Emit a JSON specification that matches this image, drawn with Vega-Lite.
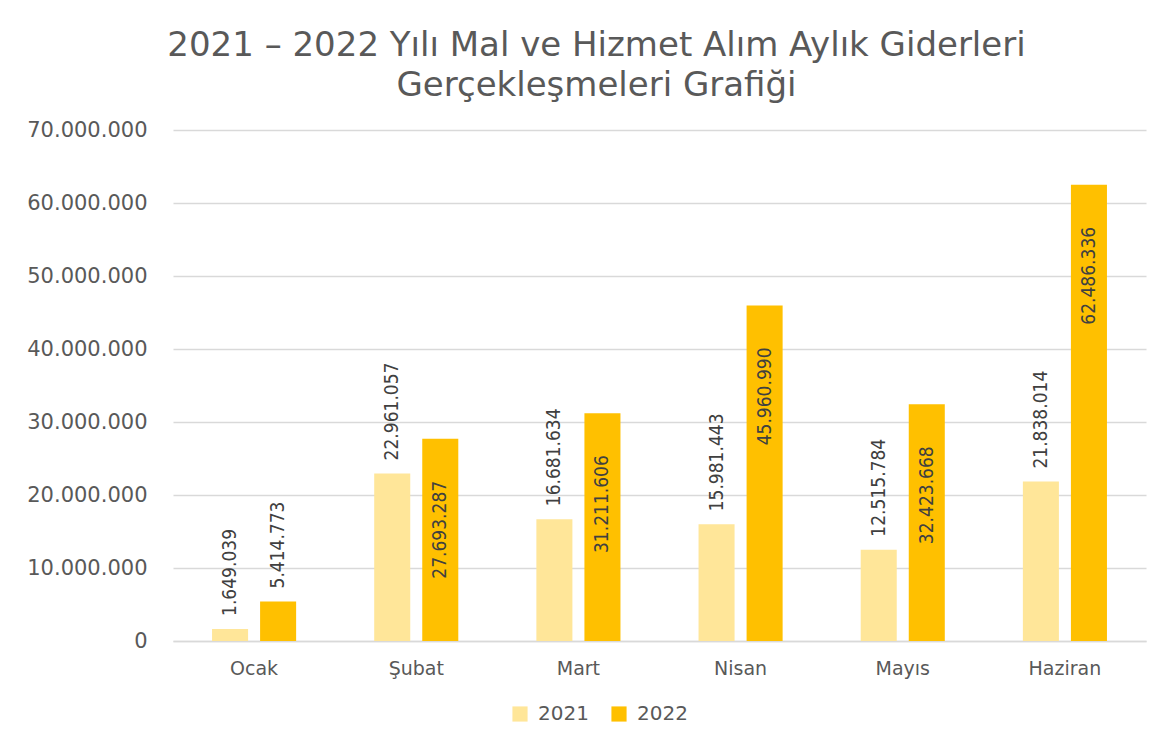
{
  "$schema": "https://vega.github.io/schema/vega-lite/v6.json",
  "width": 973,
  "height": 511,
  "autosize": {"type": "none"},
  "padding": {"left": 173, "top": 130, "right": 26, "bottom": 103},
  "background": "white",
  "config": {
    "locale": {"number": {"decimal": ",", "thousands": ".", "grouping": [3], "currency": ["", " TL"]}},
    "view": {"stroke": null}
  },
  "title": {
    "text": ["2021 – 2022 Yılı Mal ve Hizmet Alım Aylık Giderleri", "Gerçekleşmeleri Grafiği"],
    "font": "DejaVu Sans",
    "fontSize": 34,
    "fontWeight": "normal",
    "color": "#595959",
    "anchor": "middle",
    "dx": -63,
    "lineHeight": 40,
    "offset": 16
  },
  "data": {
    "values": [
      {"ay": "Ocak", "yil": "2021", "deger": 1649039},
      {"ay": "Ocak", "yil": "2022", "deger": 5414773},
      {"ay": "Şubat", "yil": "2021", "deger": 22961057},
      {"ay": "Şubat", "yil": "2022", "deger": 27693287},
      {"ay": "Mart", "yil": "2021", "deger": 16681634},
      {"ay": "Mart", "yil": "2022", "deger": 31211606},
      {"ay": "Nisan", "yil": "2021", "deger": 15981443},
      {"ay": "Nisan", "yil": "2022", "deger": 45960990},
      {"ay": "Mayıs", "yil": "2021", "deger": 12515784},
      {"ay": "Mayıs", "yil": "2022", "deger": 32423668},
      {"ay": "Haziran", "yil": "2021", "deger": 21838014},
      {"ay": "Haziran", "yil": "2022", "deger": 62486336}
    ]
  },
  "encoding": {
    "x": {
      "field": "ay",
      "type": "nominal",
      "sort": ["Ocak", "Şubat", "Mart", "Nisan", "Mayıs", "Haziran"],
      "scale": {"paddingInner": 0, "paddingOuter": 0},
      "axis": {
        "title": null,
        "labelAngle": 0,
        "labelFont": "DejaVu Sans",
        "labelFontSize": 19,
        "labelColor": "#595959",
        "labelPadding": 18,
        "ticks": false,
        "domainColor": "#D9D9D9",
        "domainWidth": 1.5
      }
    },
    "xOffset": {
      "field": "yil",
      "type": "nominal",
      "scale": {"paddingInner": 0.25, "paddingOuter": 0.8125}
    },
    "y": {
      "field": "deger",
      "type": "quantitative",
      "scale": {"domain": [0, 70000000], "nice": false},
      "axis": {
        "title": null,
        "values": [0, 10000000, 20000000, 30000000, 40000000, 50000000, 60000000, 70000000],
        "format": ",.0f",
        "labelFont": "DejaVu Sans",
        "labelFontSize": 21,
        "labelColor": "#595959",
        "labelPadding": 26,
        "ticks": false,
        "domain": false,
        "gridColor": "#D9D9D9",
        "gridWidth": 1.5
      }
    }
  },
  "layer": [
    {
      "mark": {"type": "bar"},
      "encoding": {
        "color": {
          "field": "yil",
          "type": "nominal",
          "scale": {"domain": ["2021", "2022"], "range": ["#FFE699", "#FFC000"]},
          "legend": {
            "title": null,
            "orient": "none",
            "direction": "horizontal",
            "legendX": 337,
            "legendY": 574,
            "symbolType": "square",
            "symbolSize": 230,
            "symbolStrokeWidth": 0,
            "labelFont": "DejaVu Sans",
            "labelFontSize": 20,
            "labelColor": "#595959",
            "labelOffset": 8,
            "columnPadding": 20
          }
        }
      }
    },
    {
      "transform": [{"filter": "datum.yil == '2021' || datum.deger < 10000000"}],
      "mark": {
        "type": "text",
        "angle": 270,
        "align": "left",
        "baseline": "middle",
        "dx": 13,
        "font": "DejaVu Sans Condensed, Liberation Sans",
        "fontSize": 19,
        "color": "#404040"
      },
      "encoding": {
        "text": {"field": "deger", "type": "quantitative", "format": ",.0f"}
      }
    },
    {
      "transform": [{"filter": "datum.yil == '2022' && datum.deger >= 10000000"}],
      "mark": {
        "type": "text",
        "angle": 270,
        "align": "right",
        "baseline": "middle",
        "dx": -42,
        "font": "DejaVu Sans Condensed, Liberation Sans",
        "fontSize": 19,
        "color": "#404040"
      },
      "encoding": {
        "text": {"field": "deger", "type": "quantitative", "format": ",.0f"}
      }
    }
  ]
}
